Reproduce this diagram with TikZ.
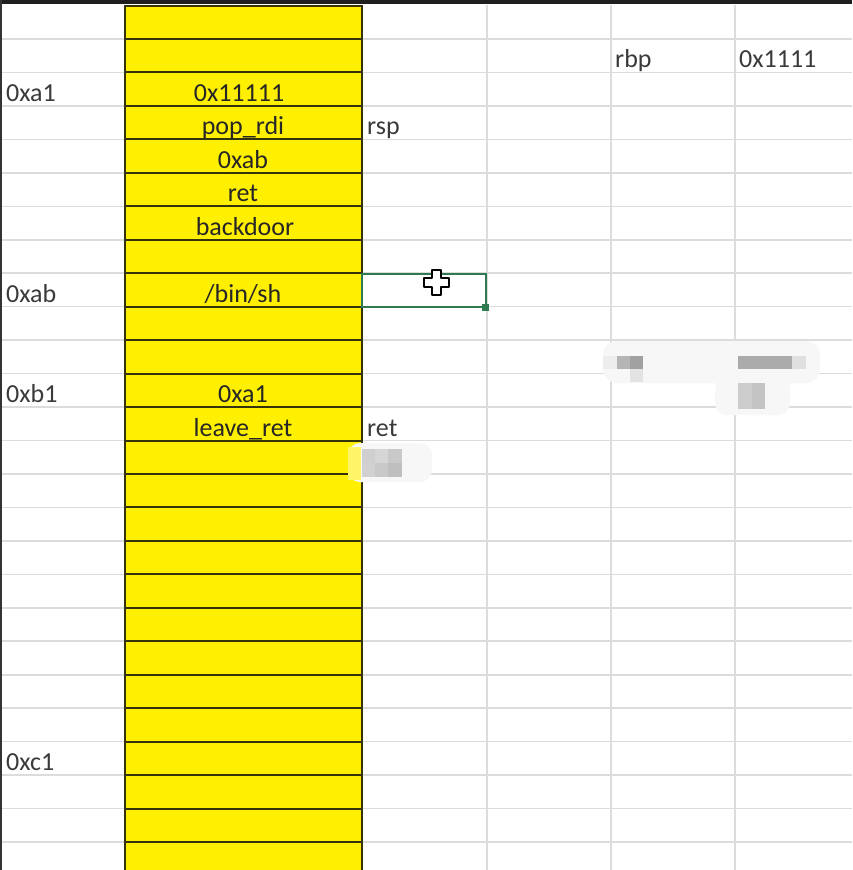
\documentclass[tikz,border=0pt]{standalone}
\usepackage{fontspec}
\setmainfont{Carlito}
\usepackage{tikz}
\usetikzlibrary{positioning}
\usepackage{xcolor}
\definecolor{cellyellow}{HTML}{FFEF00}
\definecolor{celledge}{HTML}{35330C}
\definecolor{gridgray}{HTML}{DCDCDC}
\definecolor{txtgray}{HTML}{3A3A3A}
\definecolor{selgreen}{HTML}{2F7A50}
\newcommand{\rowbase}[1]{34.5+33.46*(#1-1)}

\begin{document}
\begin{tikzpicture}[x=1pt,y=-1pt,font=\fontsize{26}{31}\selectfont]
  \tikzstyle{cell}=[rectangle,draw=celledge,line width=2pt,fill=cellyellow,minimum width=237pt,minimum height=33.46pt,inner sep=0pt]
  \tikzstyle{val}=[anchor=base,inner sep=0pt,text=black!85]
  \tikzstyle{lab}=[anchor=base west,inner sep=0pt,text=txtgray]
  \tikzstyle{grid}=[draw=gridgray,line width=1.6pt]
  \useasboundingbox (0,0) rectangle (852,870);
  \fill[white] (0,0) rectangle (852,870);
  % sheet grid
  \foreach \k in {1,...,25}
    \draw[grid] (0,{39+33.46*(\k-1)}) -- (852,{39+33.46*(\k-1)});
  \foreach \x in {125,487,611,735}
    \draw[grid] (\x,5) -- (\x,870);
  % yellow stack column
  \begin{scope}
    \clip (0,0) rectangle (852,870);
    \foreach \k in {1,...,26}
      \node[cell] (cell\k) at (243.5,{22.27+33.46*(\k-1)}) {};
  \end{scope}
  % stack contents
  \node(v-fill) at (239,{\rowbase{3}}) [val]{0x11111};
  \node(v-pop) at (243,{\rowbase{4}}) [val]{pop\_rdi};
  \node(v-arg) at (243,{\rowbase{5}}) [val]{0xab};
  \node(v-ret) at (243,{\rowbase{6}}) [val]{ret};
  \node(v-door) at (245,{\rowbase{7}}) [val]{backdoor};
  \node(v-sh) at (243,{\rowbase{9}}) [val]{/bin/sh};
  \node(v-rbp) at (243,{\rowbase{12}}) [val]{0xa1};
  \node(v-leave) at (243,{\rowbase{13}}) [val]{leave\_ret};
  % addresses
  \node(a-a1) at (6,{\rowbase{3}}) [lab]{0xa1};
  \node(a-ab) at (6,{\rowbase{9}}) [lab]{0xab};
  \node(a-b1) at (6,{\rowbase{12}}) [lab]{0xb1};
  \node(a-c1) at (6,{\rowbase{23}}) [lab]{0xc1};
  % registers
  \node(r-rsp) at (367,{\rowbase{4}}) [lab]{rsp};
  \node(r-ret) at (367,{\rowbase{13}}) [lab]{ret};
  \node(r-rbp) at (615,{\rowbase{2}}) [lab]{rbp};
  \node(r-val) at (739,{\rowbase{2}}) [lab]{0x1111};
  % selected cell and cursor
  \draw[selgreen,line width=1.8pt] (362,273.6) rectangle (486,307);
  \fill[selgreen] (482,303.5) rectangle (489,310.5);
  \draw[black,line width=1.8pt,fill=white,line join=round]
    (432,270)--(441,270)--(441,278)--(449,278)--(449,287)--(441,287)--(441,295)
    --(432,295)--(432,287)--(424,287)--(424,278)--(432,278)--cycle;
  % blurred patches
  \fill[black!3,rounded corners=12pt] (348,443) rectangle (432,482);
  \fill[cellyellow!60!white] (348,447) rectangle (361,480);
  \fill[black!19] (362,449) rectangle (375,463);
  \fill[black!16] (375,449) rectangle (388,463);
  \fill[black!21] (388,449) rectangle (402,463);
  \fill[black!18] (362,463) rectangle (375,477);
  \fill[black!21] (375,463) rectangle (388,477);
  \fill[black!25] (388,463) rectangle (402,477);
  \fill[black!3,rounded corners=14pt] (603,341) rectangle (820,383);
  \fill[black!3,rounded corners=12pt] (715,376) rectangle (790,415);
  \fill[black!7] (603,356) rectangle (617,369);
  \fill[black!29] (617,356) rectangle (630,369);
  \fill[black!37] (630,356) rectangle (643,369);
  \fill[black!11] (630,369) rectangle (643,382);
  \fill[black!33] (738,356) rectangle (792,369);
  \fill[black!12] (792,356) rectangle (806,369);
  \fill[black!20] (738,383) rectangle (752,409);
  \fill[black!23] (752,383) rectangle (765,409);
  % window edges
  \fill[black!88] (0,0) rectangle (852,4);
  \fill[black!80] (0,0) rectangle (2,870);
\end{tikzpicture}
\end{document}
